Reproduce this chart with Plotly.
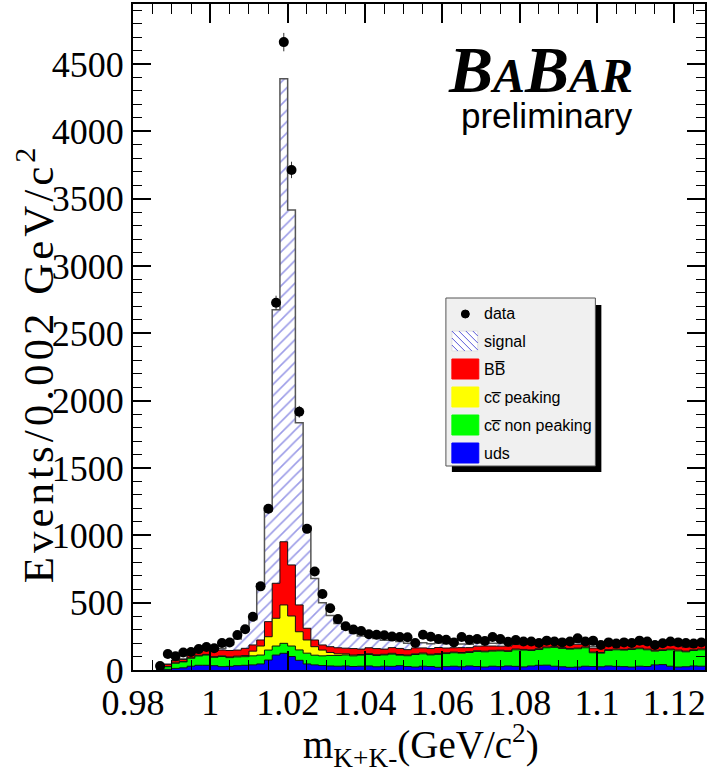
import numpy as np
import plotly.graph_objects as go

# ---------------- data (71 bins of 0.002 GeV starting at 0.986) ----------------
bin_low = 0.986
bin_width = 0.002

uds = [3,5,12,16,28,35,35,32,25,27,32,35,38,45,74,111,124,100,72,45,38,33,30,
       28,30,26,28,30,24,28,27,32,26,22,28,26,20,25,28,24,30,26,22,28,25,30,27,23,30,35,36,28,24,
       20,22,28,26,24,30,27,25,22,28,26,38,40,28,22,24,30,28]
cc_nonpeak = [5,19,38,44,59,69,76,62,75,65,65,64,67,66,74,67,74,78,77,80,72,72,78,
              80,82,79,82,85,84,84,91,78,80,93,92,86,96,97,100,101,100,112,113,
              112,117,108,123,125,115,117,129,140,136,135,136,137,102,101,115,123,123,130,130,
              124,102,105,122,120,111,115,122]
cc_peak = [1,2,3,3,4,5,5,5,5,5,6,8,35,67,99,206,285,223,135,98,63,43,22,
           12,8,6,5,6,5,5,6,5,5,5,6,5,5,6,5,5,6,5,5,6,5,5,6,5,5,6,5,5,6,
           5,5,6,5,5,6,5,5,6,5,5,6,5,5,6,5,5,6]
bbbar = [9,16,16,16,33,32,32,42,43,48,45,54,46,45,112,260,469,379,199,87,50,38,43,
         45,42,48,40,44,46,38,42,45,40,44,38,42,46,35,32,36,30,34,38,
         32,30,35,33,36,40,38,42,35,30,32,28,34,30,33,30,35,32,28,30,
         34,36,30,28,32,30,33,35]
signal = [0,0,1,2,2,3,4,6,12,45,82,139,189,417,821,2031,3438,2635,1352,755,457,314,232,
          180,140,115,98,85,74,65,58,52,47,43,39,36,33,31,29,27,25,24,22,
          21,20,19,18,17,16,16,15,15,14,14,14,13,13,13,12,12,12,12,11,
          11,11,11,10,10,10,10,10]
data = [30,119,102,130,134,155,171,161,201,204,260,302,395,621,1197,2727,4662,3713,1917,1048,731,564,458,
        378,325,300,290,265,262,258,248,245,243,200,262,247,230,225,205,245,225,230,215,
        245,230,210,222,212,212,200,218,212,205,212,235,212,218,185,205,196,205,200,218,
        212,186,198,212,205,200,196,205]

x_tick_vals = [0.98, 1.00, 1.02, 1.04, 1.06, 1.08, 1.10, 1.12]
x_tick_text = ["0.98", "1", "1.02", "1.04", "1.06", "1.08", "1.1", "1.12"]
y_tick_vals = [0, 500, 1000, 1500, 2000, 2500, 3000, 3500, 4000, 4500]

legend_labels = ["data", "signal", "BB\u0305", "cc\u0305 peaking", "cc\u0305 non peaking", "uds"]
legend_colors = [None, None, "#ff0000", "#ffff00", "#00ff00", "#0000ff"]

# ---------------- derived ----------------
n = len(data)
edges = bin_low + bin_width * np.arange(n + 1)
centers = edges[:-1] + bin_width / 2

c_uds = np.array(uds)
c_green = c_uds + np.array(cc_nonpeak)
c_yellow = c_green + np.array(cc_peak)
c_red = c_yellow + np.array(bbbar)
c_total = c_red + np.array(signal)


def step_y(v):
    v = list(v)
    return v + [v[-1]]


fig = go.Figure()

fig.add_trace(go.Scatter(
    x=edges, y=step_y(c_total), mode="lines", line_shape="hv",
    line=dict(color="#555555", width=1.5), fill="tozeroy",
    fillcolor="white",
    fillpattern=dict(shape="/", fgcolor="#3a3ad0", bgcolor="white", size=8, solidity=0.2),
    showlegend=False, hoverinfo="skip"))

for cum, col in [(c_red, "#ff0000"), (c_yellow, "#ffff00"), (c_green, "#00ff00"), (c_uds, "#0000ff")]:
    fig.add_trace(go.Scatter(
        x=edges, y=step_y(cum), mode="lines", line_shape="hv",
        line=dict(color="#111111", width=1), fill="tozeroy", fillcolor=col,
        showlegend=False, hoverinfo="skip"))

fig.add_trace(go.Scatter(
    x=centers, y=data, mode="markers",
    marker=dict(color="black", size=10),
    error_y=dict(type="data", array=np.sqrt(np.array(data, dtype=float)), color="#333333",
                 thickness=1, width=0),
    showlegend=False, hoverinfo="skip"))

# ---------------- layout ----------------
L, T, W, H = 133, 4, 574, 666


def px(x, y):
    return ((x - L) / W, (T + H - y) / H)


shapes = []
annotations = []

# legend shadow + box
sx0, sy0 = px(453, 305)
sx1, sy1 = px(603, 472)
shapes.append(dict(type="rect", xref="paper", yref="paper", x0=sx0, y0=sy0, x1=sx1, y1=sy1,
                   fillcolor="black", line=dict(width=0), layer="above"))
bx0, by0 = px(447, 298)
bx1, by1 = px(597, 466)
shapes.append(dict(type="rect", xref="paper", yref="paper", x0=bx0, y0=by0, x1=bx1, y1=by1,
                   fillcolor="#f0f0f0", line=dict(color="#555555", width=1), layer="above"))

entry_y = [314, 341, 369, 397, 425, 453]
for lab, col, ey in zip(legend_labels, legend_colors, entry_y):
    if lab == "data":
        cx0, cy0 = px(462.5, ey - 4)
        cx1, cy1 = px(470.5, ey + 4)
        shapes.append(dict(type="circle", xref="paper", yref="paper", x0=cx0, y0=cy0, x1=cx1, y1=cy1,
                           fillcolor="black", line=dict(color="black", width=1), layer="above"))
    elif lab == "signal":
        rx0, ry0, rx1, ry1 = 453, ey - 10, 479, ey + 10
        a0, b0 = px(rx0, ry0)
        a1, b1 = px(rx1, ry1)
        shapes.append(dict(type="rect", xref="paper", yref="paper", x0=a0, y0=b1, x1=a1, y1=b0,
                           fillcolor="white", line=dict(color="#e0e0e0", width=1), layer="above"))
        wdt, hgt = rx1 - rx0, ry1 - ry0
        for k in range(6, wdt + hgt, 7):
            xs = rx0 + max(0, k - hgt)
            xe = rx0 + min(k, wdt)
            ys = ry1 - (k - (xs - rx0))
            ye = ry1 - (k - (xe - rx0))
            p0 = px(xs, ys)
            p1 = px(xe, ye)
            shapes.append(dict(type="line", xref="paper", yref="paper", x0=p0[0], y0=p0[1],
                               x1=p1[0], y1=p1[1], line=dict(color="#5a5ad8", width=1), layer="above"))
    else:
        a0, b0 = px(453, ey - 10)
        a1, b1 = px(480, ey + 10)
        shapes.append(dict(type="rect", xref="paper", yref="paper", x0=a0, y0=b1, x1=a1, y1=b0,
                           fillcolor=col, line=dict(color=col, width=1), layer="above"))
    tx, ty = px(483, ey)
    annotations.append(dict(xref="paper", yref="paper", x=tx, y=ty, xanchor="left", yanchor="middle",
                            text=lab, showarrow=False,
                            font=dict(family="Liberation Sans", size=16, color="black")))

# BaBar logo
lx, ly = px(637, 70)
annotations.append(dict(xref="paper", yref="paper", x=lx, y=ly, xanchor="right", yanchor="middle",
                        text="<b><i>B<span style='font-size:48px'>A</span>B<span style='font-size:48px'>AR</span></i></b>",
                        showarrow=False, font=dict(family="Liberation Serif", size=66, color="black")))
lx, ly = px(637, 116)
annotations.append(dict(xref="paper", yref="paper", x=lx, y=ly, xanchor="right", yanchor="middle",
                        text="preliminary", showarrow=False,
                        font=dict(family="Liberation Sans", size=35, color="black")))

# axis titles
ax, ay = px(35, 365)
annotations.append(dict(xref="paper", yref="paper", x=ax, y=ay, xanchor="center", yanchor="middle",
                        text="<span style='letter-spacing:4px'>Events/0.002 GeV/c</span><sup>2</sup>",
                        textangle=-90, showarrow=False,
                        font=dict(family="Liberation Serif", size=43, color="black")))
ax, ay = px(422, 745)
annotations.append(dict(xref="paper", yref="paper", x=ax, y=ay, xanchor="center", yanchor="middle",
                        text="m<sub>K+K-</sub>(GeV/c<sup>2</sup>)", showarrow=False,
                        font=dict(family="Liberation Serif", size=39, color="black")))

tickfont = dict(family="Liberation Serif", size=36, color="black")

fig.update_layout(
    width=707, height=780,
    margin=dict(l=L, r=707 - L - W, t=T, b=780 - T - H, pad=0),
    paper_bgcolor="white", plot_bgcolor="white",
    showlegend=False,
    shapes=shapes, annotations=annotations,
    xaxis=dict(range=[0.98, 0.98 + W / (77.6 / 0.02)], tickvals=x_tick_vals, ticktext=x_tick_text,
               ticks="inside", ticklen=19, tickwidth=1.5, tickcolor="black",
               minor=dict(dtick=0.005, tick0=0.98, ticks="inside", ticklen=10, tickcolor="black", tickwidth=1),
               showline=True, linecolor="black", linewidth=2, mirror="allticks",
               showgrid=False, zeroline=False, tickfont=tickfont),
    yaxis=dict(range=[0, 4945], tickvals=y_tick_vals, ticks="inside", ticklen=18, tickwidth=1.5,
               tickcolor="black",
               minor=dict(dtick=100, tick0=0, ticks="inside", ticklen=9, tickcolor="black", tickwidth=1),
               showline=True, linecolor="black", linewidth=2, mirror="allticks",
               showgrid=False, zeroline=False, tickfont=tickfont),
)

fig.write_html("out.html", config={"displayModeBar": False},
               post_script="document.body.style.margin='0';document.body.style.overflow='hidden';")
